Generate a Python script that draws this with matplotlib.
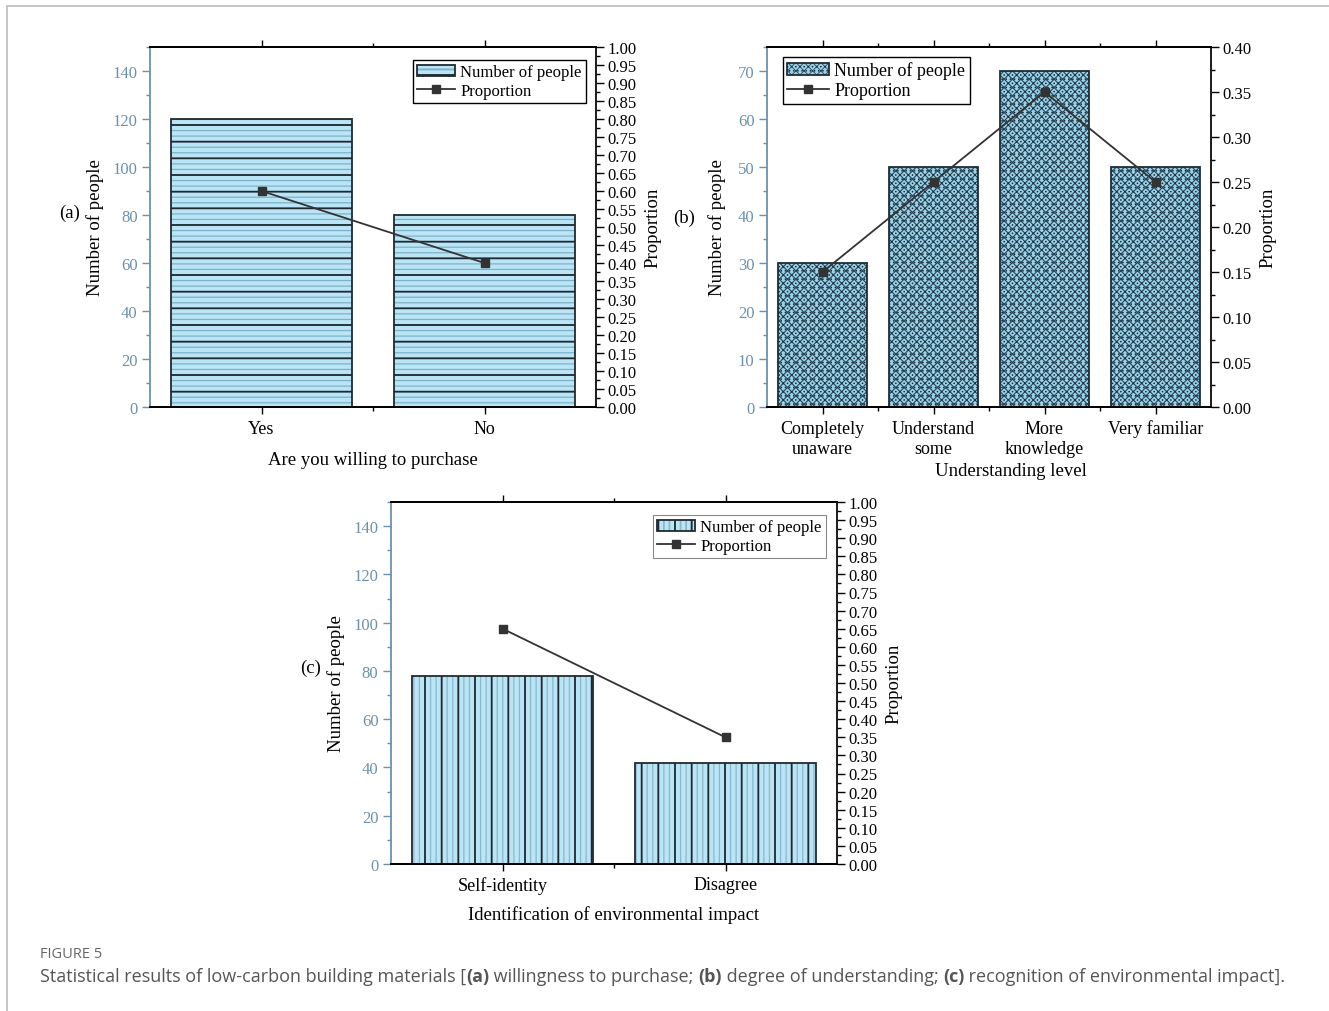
import numpy as np
import matplotlib
matplotlib.use('Agg')
import matplotlib.pyplot as plt
from matplotlib.ticker import MultipleLocator, FormatStrFormatter
from matplotlib.patches import Rectangle

plt.rcParams['font.family'] = ['Liberation Serif', 'DejaVu Serif']

# data
a_cats = ['Yes', 'No']
a_people = [120, 80]
a_prop = [0.60, 0.40]

b_cats = ['Completely\nunaware', 'Understand\nsome', 'More\nknowledge', 'Very familiar']
b_people = [30, 50, 70, 50]
b_prop = [0.15, 0.25, 0.35, 0.25]

c_cats = ['Self-identity', 'Disagree']
c_people = [78, 42]
c_prop = [0.65, 0.35]

LEFT_BLUE = '#6a92ae'
LINE_COL = '#333333'


def style_axes(ax, ax2, n, ymax, ymaj, ymin, pmax):
    ax.set_xlim(-0.5, n - 0.5)
    ax.set_ylim(0, ymax)
    ax2.set_ylim(0, pmax)
    ax.set_xticks(np.arange(n))
    ax.set_xticks(np.arange(n - 1) + 0.5, minor=True)
    ax.yaxis.set_major_locator(MultipleLocator(ymaj))
    ax.yaxis.set_minor_locator(MultipleLocator(ymin))
    ax2.yaxis.set_major_locator(MultipleLocator(0.05))
    ax2.yaxis.set_minor_locator(MultipleLocator(0.025))
    ax2.yaxis.set_major_formatter(FormatStrFormatter('%.2f'))
    ax.tick_params(axis='y', which='major', direction='out', length=6, width=1,
                   color=LEFT_BLUE, labelcolor=LEFT_BLUE, labelsize=12, pad=3)
    ax.tick_params(axis='y', which='minor', direction='out', length=3, width=1, color=LEFT_BLUE)
    ax.tick_params(axis='x', which='major', direction='out', length=5, width=1,
                   labelsize=13, top=True, pad=4)
    ax.tick_params(axis='x', which='minor', direction='out', length=3, width=1, top=True)
    ax2.tick_params(axis='y', which='major', direction='out', length=6, width=1,
                    labelsize=12, pad=2)
    ax2.tick_params(axis='y', which='minor', direction='out', length=3, width=1)
    ax.spines['left'].set_color(LEFT_BLUE)
    for s in ['left', 'right', 'top', 'bottom']:
        ax.spines[s].set_linewidth(1.3)
        ax2.spines[s].set_linewidth(1.3)
    ax2.spines['left'].set_visible(False)
    ax2.spines['right'].set_color('#222222')
    ax.set_ylabel('Number of people', fontsize=13.5)
    ax2.set_ylabel('Proportion', fontsize=13.5)


fig = plt.figure(figsize=(13.29, 10.12), dpi=100)
W, H = 1329, 1012


def axes_px(l, t, r, b):
    return fig.add_axes([l / W, 1 - b / H, (r - l) / W, (b - t) / H])


# ---------- panel (a) ----------
ax = axes_px(150, 48, 596, 408)
ax2 = ax.twinx()
plt.rcParams['hatch.linewidth'] = 0.9
xa = np.arange(len(a_cats))
l1 = ax.bar(xa, a_people, width=0.81, color='#bae5f7', edgecolor='#7fb2c6',
            hatch='---', linewidth=0, zorder=2)
plt.rcParams['hatch.linewidth'] = 1.3
l2 = ax.bar(xa, a_people, width=0.81, fill=False, edgecolor='#1f2a30',
            hatch='-', linewidth=1.3, zorder=3)
ln, = ax2.plot(xa, a_prop, color=LINE_COL, lw=1.3, marker='s', ms=6,
               markerfacecolor=LINE_COL, zorder=4)
style_axes(ax, ax2, len(a_cats), 150, 20, 10, 1.0)
ax.set_xticklabels(a_cats)
ax.set_xlabel('Are you willing to purchase', fontsize=13.5)
ax.xaxis.set_label_coords(0.5, -0.122)
ax.yaxis.set_label_coords(-0.103, 0.5)
ax2.yaxis.set_label_coords(1.108, 0.5)
leg = ax2.legend([(l1[0], l2[0]), ln], ['Number of people', 'Proportion'],
                 loc='upper right', bbox_to_anchor=(0.977, 0.963), fontsize=12,
                 fancybox=False, edgecolor='black', framealpha=1,
                 handlelength=2.3, borderpad=0.25, labelspacing=0.15,
                 handletextpad=0.3, borderaxespad=0)
leg.get_frame().set_linewidth(1.0)
fig.text(70 / W, 1 - 213 / H, '(a)', fontsize=13.5, ha='center', va='center')

# ---------- panel (b) ----------
ax = axes_px(767, 48, 1211, 408)
ax2 = ax.twinx()
plt.rcParams['hatch.linewidth'] = 0.8
xb = np.arange(len(b_cats))
l1 = ax.bar(xb, b_people, width=0.8, color='#9dd2e6', edgecolor='#24465c',
            hatch='xxxx', linewidth=0, zorder=2)
plt.rcParams['hatch.linewidth'] = 0.6
l2 = ax.bar(xb, b_people, width=0.8, fill=False, edgecolor='#1c2d38',
            hatch='....', linewidth=1.3, zorder=3)
ln, = ax2.plot(xb, b_prop, color=LINE_COL, lw=1.3, marker='s', ms=6,
               markerfacecolor=LINE_COL, zorder=4)
style_axes(ax, ax2, len(b_cats), 75, 10, 5, 0.40)
ax.set_xticklabels(b_cats, linespacing=1.3)
ax.set_xlabel('Understanding level', fontsize=13.5)
ax.xaxis.set_label_coords(0.55, -0.153)
ax.yaxis.set_label_coords(-0.092, 0.5)
ax2.yaxis.set_label_coords(1.110, 0.5)
leg = ax2.legend([(l1[0], l2[0]), ln], ['Number of people', 'Proportion'],
                 loc='upper left', bbox_to_anchor=(0.036, 0.972), fontsize=13,
                 fancybox=False, edgecolor='black', framealpha=1,
                 handlelength=2.3, borderpad=0.25, labelspacing=0.15,
                 handletextpad=0.3, borderaxespad=0)
leg.get_frame().set_linewidth(1.0)
fig.text(684 / W, 1 - 218 / H, '(b)', fontsize=13.5, ha='center', va='center')

# ---------- panel (c) ----------
ax = axes_px(391, 503, 837, 865)
ax2 = ax.twinx()
plt.rcParams['hatch.linewidth'] = 0.9
xc = np.arange(len(c_cats))
l1 = ax.bar(xc, c_people, width=0.81, color='#bae5f7', edgecolor='#8ab8ca',
            hatch='|||', linewidth=0, zorder=2)
plt.rcParams['hatch.linewidth'] = 1.3
l2 = ax.bar(xc, c_people, width=0.81, fill=False, edgecolor='#1f2a30',
            hatch='|', linewidth=1.3, zorder=3)
ln, = ax2.plot(xc, c_prop, color=LINE_COL, lw=1.3, marker='s', ms=6,
               markerfacecolor=LINE_COL, zorder=4)
style_axes(ax, ax2, len(c_cats), 150, 20, 10, 1.0)
ax.set_xticklabels(c_cats)
ax.set_xlabel('Identification of environmental impact', fontsize=13.5)
ax.xaxis.set_label_coords(0.5, -0.113)
ax.yaxis.set_label_coords(-0.103, 0.5)
ax2.yaxis.set_label_coords(1.108, 0.5)
leg = ax2.legend([(l1[0], l2[0]), ln], ['Number of people', 'Proportion'],
                 loc='upper right', bbox_to_anchor=(0.975, 0.964), fontsize=12,
                 fancybox=False, edgecolor='#888888', framealpha=1,
                 handlelength=2.3, borderpad=0.25, labelspacing=0.15,
                 handletextpad=0.3, borderaxespad=0)
leg.get_frame().set_linewidth(0.8)
fig.text(311 / W, 1 - 668 / H, '(c)', fontsize=13.5, ha='center', va='center')

# ---------- page frame and caption ----------
fig.patches.append(Rectangle((7 / W, -0.1), 1.2, 1 - 7 / H + 0.1,
                             transform=fig.transFigure, fill=False,
                             edgecolor='#bbbbbb', linewidth=1.2))
fig.text(40 / W, 1 - 955 / H, 'FIGURE 5', fontsize=10.5, family='Open Sans',
         color='#666666', va='center')

pieces = [('Statistical results of low-carbon building materials [', 'normal'),
          ('(a)', 'bold'), (' willingness to purchase; ', 'normal'),
          ('(b)', 'bold'), (' degree of understanding; ', 'normal'),
          ('(c)', 'bold'), (' recognition of environmental impact].', 'normal')]
renderer = fig.canvas.get_renderer()
xpos = 40 / W
for txt, wt in pieces:
    t = fig.text(xpos, 1 - 977 / H, txt, fontsize=13, family='Open Sans',
                 weight=wt, color='#555555', va='center')
    bb = t.get_window_extent(renderer)
    xpos += bb.width / W

fig.savefig('out.png', dpi=100)
